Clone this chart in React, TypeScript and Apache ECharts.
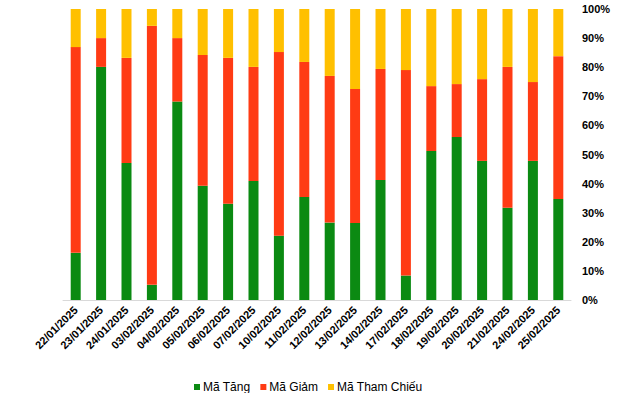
import React, { useEffect, useRef } from "react";
import * as echarts from "echarts";

const categories = [
  "22/01/2025", "23/01/2025", "24/01/2025", "03/02/2025", "04/02/2025",
  "05/02/2025", "06/02/2025", "07/02/2025", "10/02/2025", "11/02/2025",
  "12/02/2025", "13/02/2025", "14/02/2025", "17/02/2025", "18/02/2025",
  "19/02/2025", "20/02/2025", "21/02/2025", "24/02/2025", "25/02/2025",
];

const maTang = [16.2, 80.1, 47.1, 5.2, 68.2, 39.3, 33.1, 40.9, 22.1, 35.4, 26.6, 26.5, 41.2, 8.4, 51.2, 56.0, 47.8, 31.7, 47.8, 34.7];
const maGiam = [70.7, 9.9, 36.1, 89.0, 21.8, 44.9, 50.1, 39.2, 63.1, 46.4, 50.4, 46.0, 38.2, 70.6, 22.3, 18.2, 28.1, 48.4, 27.1, 49.1];
const maThamChieu = [13.1, 10.0, 16.8, 5.8, 10.0, 15.8, 16.8, 19.9, 14.8, 18.2, 23.0, 27.5, 20.6, 21.0, 26.5, 25.8, 24.1, 19.9, 25.1, 16.2];

const seriesNames = ["Mã Tăng", "Mã Giảm", "Mã Tham Chiếu"];
const colors = ["#0b8a12", "#ff3b14", "#ffc000"];

const FONT = 'Arial, "Liberation Sans", sans-serif';

export default function App() {
  const ref = useRef<HTMLDivElement>(null);
  useEffect(() => {
    if (!ref.current) return;
    const chart = echarts.init(ref.current, null, { renderer: "svg" });
    const data = [maTang, maGiam, maThamChieu];
    chart.setOption({
      animation: false,
      textStyle: { fontFamily: FONT },
      grid: { left: 63, right: 69, top: 9, bottom: 93, containLabel: false },
      legend: {
        data: seriesNames,
        left: 189,
        top: 376,
        icon: "rect",
        itemWidth: 6,
        itemHeight: 6,
        itemGap: 10,
        textStyle: { fontSize: 12, color: "#000", fontFamily: FONT, padding: [0, 0, 0, -2] },
      },
      xAxis: {
        type: "category",
        data: categories,
        axisLine: { lineStyle: { color: "#d9d9d9", width: 1 } },
        axisTick: { show: false },
        axisLabel: {
          rotate: 45,
          interval: 0,
          margin: 8,
          fontSize: 11,
          fontWeight: "bold",
          color: "#000",
          fontFamily: FONT,
        },
      },
      yAxis: {
        type: "value",
        position: "right",
        min: 0,
        max: 100,
        interval: 10,
        axisLine: { show: false },
        axisTick: { show: false },
        splitLine: { show: false },
        axisLabel: {
          formatter: "{value}%",
          margin: 11,
          fontSize: 11,
          fontWeight: "bold",
          color: "#000",
          fontFamily: FONT,
          align: "left",
        },
      },
      series: seriesNames.map((name, i) => ({
        name,
        type: "bar",
        stack: "total",
        barWidth: 10,
        itemStyle: { color: colors[i] },
        data: data[i],
      })),
    });
    return () => chart.dispose();
  }, []);
  return (
    <div
      ref={ref}
      style={{ position: "absolute", left: 0, top: 0, width: 640, height: 393 }}
    />
  );
}
